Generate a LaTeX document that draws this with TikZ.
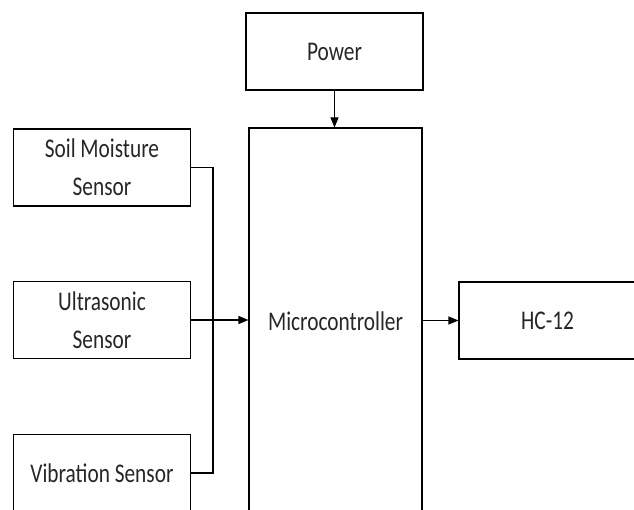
\documentclass[tikz,border=0pt]{standalone}
\usepackage{fontspec}
\setmainfont{Carlito}[FakeStretch=0.79]
\usetikzlibrary{arrows.meta}
\begin{document}
\begin{tikzpicture}[x=1pt, y=-1pt, line join=miter, >={Triangle[length=10pt,width=8pt]},
	blok/.style={draw, line width=1.1pt, minimum width=177pt, minimum height=77pt, inner sep=0pt, align=center, font=\fontsize{27}{38}\selectfont, text=black!85},
	lijn/.style={line width=1.1pt}]
	\useasboundingbox (0,0) rectangle (634,510);
	\def\jx{213}
	% boxes
	\node[blok] (power) at (334.5,51.5) {Power};
	\node[blok, minimum width=173pt, minimum height=386pt] (mcu) at (335.5,321) {Microcontroller};
	\node[blok] (soil) at (102,167.5) {Soil Moisture\\Sensor};
	\node[blok] (ultra) at (102,320) {Ultrasonic\\Sensor};
	\node[blok] (vib) at (102,473) {Vibration Sensor};
	\node[blok] (hc) at (547.5,320.5) {HC-12};
	% connections
	\path (\jx,167.5) coordinate (J1) (\jx,473) coordinate (J2);
	\draw[lijn] (soil.east) -- (J1) -- (J2) -- (vib.east);
	\draw[lijn,->] (ultra.east) -- (ultra.east -| mcu.west);
	\draw[lijn,->] (power.south) -- (power.south |- mcu.north);
	\draw[lijn,->] (mcu.east |- hc.west) -- (hc.west);
\end{tikzpicture}
\end{document}
